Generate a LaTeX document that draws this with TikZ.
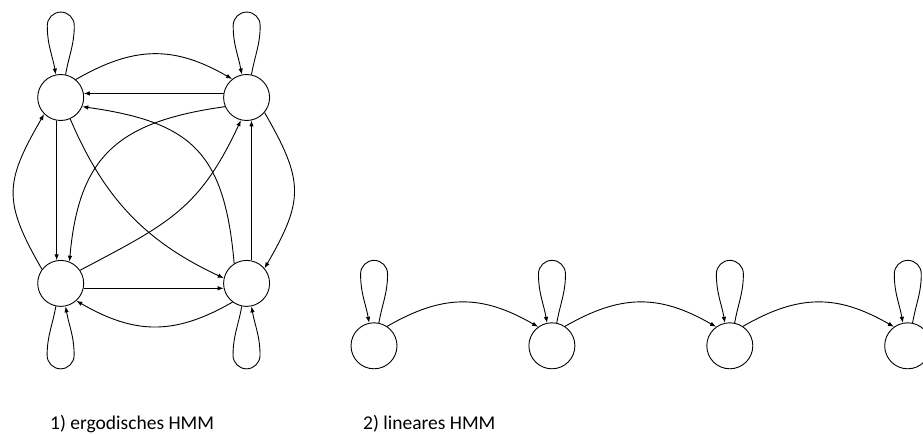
\documentclass[tikz,border=0pt]{standalone}
\usepackage{fontspec}
\setmainfont{Carlito}
\usetikzlibrary{positioning,arrows.meta}
\tikzset{hmmstate/.style={circle, draw, line width=0.9pt, minimum size=46pt, inner sep=0pt}}
\tikzset{arr/.style={draw, line width=0.9pt, -{Latex[length=6pt,width=4.5pt]}}}
\tikzset{caption/.style={anchor=base west, inner sep=0pt, font=\fontsize{19.5}{23}\selectfont}}
% self transitions, drawn as a narrow loop over / under the state
\newcommand{\looptop}[1]{%
  \draw[arr] (#1.78) to[out=80,in=-90] ++(8.7,49) arc[start angle=0,end angle=180,radius=13.5] to[out=-90,in=100] (#1.102);}
\newcommand{\loopbottom}[1]{%
  \draw[arr] (#1.-102) to[out=-100,in=90] ++(-8.7,-49) arc[start angle=180,end angle=360,radius=13.5] to[out=90,in=-80] (#1.-78);}

\begin{document}
\begin{tikzpicture}[x=1pt,y=1pt]
    \useasboundingbox (0,0) rectangle (923,434);
    % ergodic model
    \node[hmmstate] (TL) at (60.7,336.5) {};
    \node[hmmstate,right=139pt of TL] (TR) {};
    \node[hmmstate,below=139pt of TL] (BL) {};
    \node[hmmstate,right=139pt of BL] (BR) {};
    \looptop{TL}
    \looptop{TR}
    \loopbottom{BL}
    \loopbottom{BR}
    \draw[arr] (TL.50) to[out=30,in=150,looseness=1.1] (TR.128);
    \draw[arr] (TR.170) -- (TL.10);
    \draw[arr] (BL.-12) -- (BR.192);
    \draw[arr] (BR.233) to[out=210,in=-30,looseness=1.1] (BL.-48);
    \draw[arr] (TL.-100) -- (BL.100);
    \draw[arr] (BR.78) -- (TR.-78);
    \draw[arr] (BL.143) to[out=120,in=240,looseness=1.3] (TL.225);
    \draw[arr] (TR.-40) to[out=-60,in=60,looseness=1.3] (BR.40);
    % diagonals
    \draw[arr] (BR.122) to[out=95,in=-8,looseness=1.3] (TL.-23);
    \draw[arr] (TL.-66) to[out=-67,in=155] (BR.167);
    \draw[arr] (TR.203) to[out=188,in=85,looseness=1.25] (BL.68);
    \draw[arr] (BL.34) to[out=28,in=-115,looseness=1.15] (TR.-104);
    % linear (left-right) model
    \node[hmmstate] (L1) at (374,88.2) {};
    \node[hmmstate,right=131pt of L1] (L2) {};
    \node[hmmstate,right=131pt of L2] (L3) {};
    \node[hmmstate,right=131pt of L3] (L4) {};
    \looptop{L1}
    \looptop{L2}
    \looptop{L3}
    \looptop{L4}
    \draw[arr] (L1.56) to[out=30,in=150,looseness=1.1] (L2.126);
    \draw[arr] (L2.56) to[out=30,in=150,looseness=1.1] (L3.126);
    \draw[arr] (L3.56) to[out=30,in=150,looseness=1.1] (L4.126);
    %
    \node[caption] (cap1) at (50,4.5) {1) ergodisches HMM};
    \node[caption] (cap2) at (363,4.5) {2) lineares HMM};
\end{tikzpicture}
\end{document}
